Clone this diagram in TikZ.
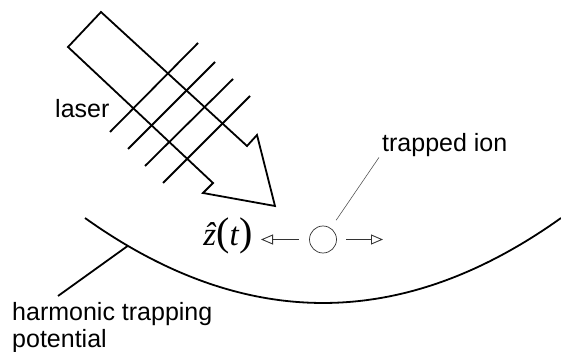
\documentclass[tikz,border=0pt]{standalone}
\usepackage{fontspec}
\setmainfont{Liberation Sans}
\newfontfamily\zfont{Liberation Serif}
\usetikzlibrary{arrows.meta}
\newcommand\bigparen[1]{{\fontsize{40}{40}\selectfont\upshape #1}}
\begin{document}
\begin{tikzpicture}[x=1pt,y=-1pt,
  thickline/.style={line width=1.8pt, line join=miter},
  lbl/.style={font=\fontsize{25}{27}\selectfont, inner sep=0pt},
  thinline/.style={line width=0.7pt, black!80},
  leader/.style={line width=0.55pt, black!70},
  motion/.style={line width=1.2pt, black!80, -{Triangle[open,length=12pt,width=10pt,line width=0.9pt]}}]
\useasboundingbox (0,0) rectangle (561,352);
% laser beam arrow
\draw[thickline] (101,12) -- (247,146) -- (257,135) -- (275,206) -- (203,193) -- (213,183) -- (68,47) -- cycle;
\foreach \a/\b/\c/\d in {198/43/110/132, 215/62/128/149, 233/79/145/166, 250/96/163/183}
  \draw[thickline] (\a,\b) -- (\c,\d);
% potential
\draw[thickline] (85,218) .. controls (243.7,331.3) and (402.3,331.3) .. (561,218)
  coordinate[pos=0.09] (hp);
% labels
\node[lbl, anchor=base west] (laser) at (55,118) {laser};
\node[lbl, anchor=base west] (ionlbl) at (382,152) {trapped ion};
\node[lbl, align=left, anchor=north west] (htp) at (12,302) {harmonic trapping\\potential};
\coordinate (hpend) at (58,296);
\draw[thickline] (hp) -- (hpend);
% ion
\node[draw, circle, minimum size=27pt, inner sep=0pt, thinline] (ion) at (323,239.5) {};
\node[inner sep=0pt, anchor=base, font=\zfont\fontsize{33}{33}\selectfont] (z) at (228,246)
  {\itshape ẑ\bigparen{(}\itshape t\/\bigparen{)}};
\coordinate (ltip) at (261,239.5);
\coordinate (rtip) at (383,239.5);
\draw[motion, shorten <=10.5pt] (ion) -- (ltip);
\draw[motion, shorten <=9.5pt] (ion) -- (rtip);
\draw[leader, shorten <=9.5pt] (ion) -- ([xshift=-3pt]ionlbl.south west);
\end{tikzpicture}
\end{document}
